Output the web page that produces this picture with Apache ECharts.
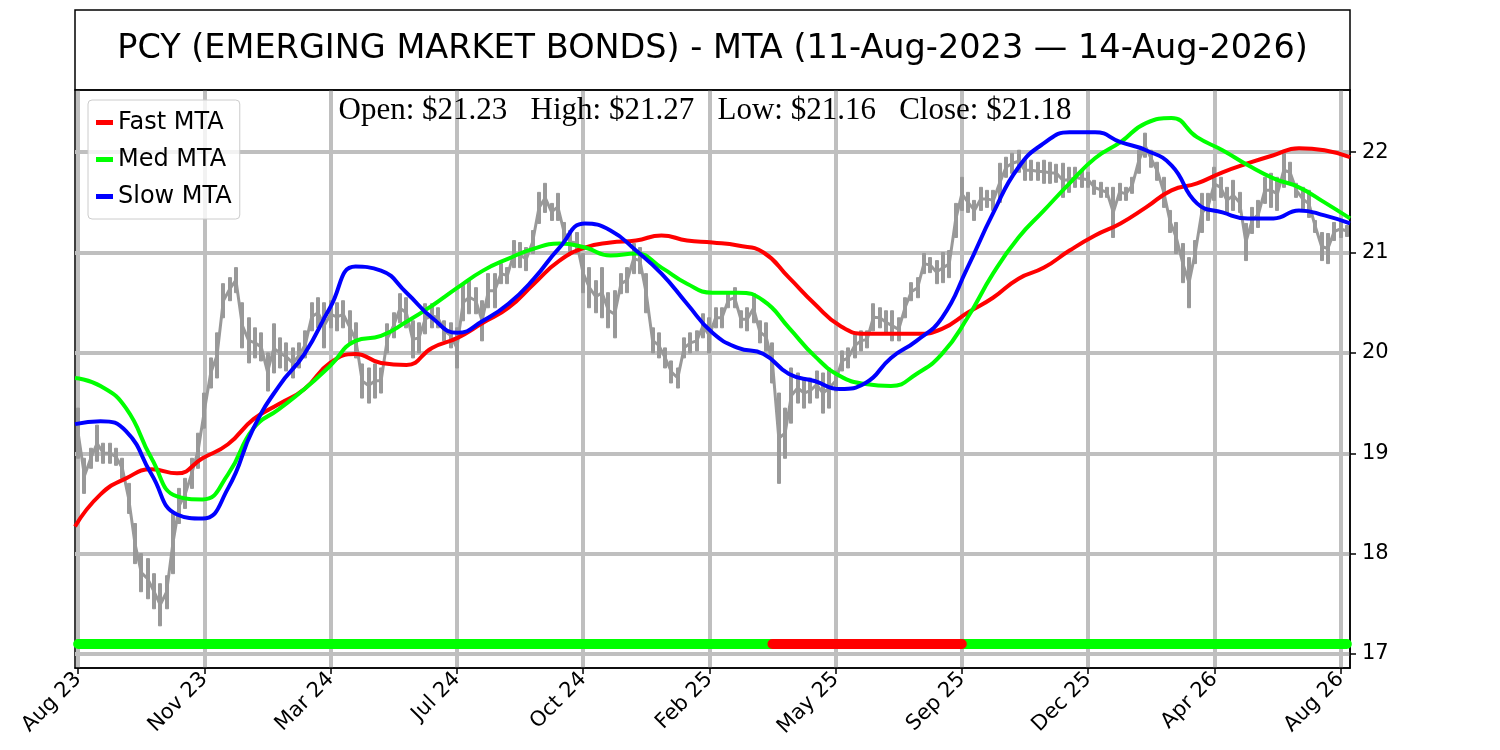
<!DOCTYPE html>
<html><head><meta charset="utf-8">
<script src="https://cdn.jsdelivr.net/npm/echarts@6/dist/echarts.min.js"></script>
<style>html,body{margin:0;padding:0;background:#fff}#c{width:1500px;height:750px}</style>
</head><body><div id="c"></div>
<script>
const titleText = 'PCY (EMERGING MARKET BONDS) - MTA (11-Aug-2023 \u2014 14-Aug-2026)';
const ohlcText = 'Open: $21.23   High: $21.27   Low: $21.16   Close: $21.18';
const tickLabels = ['Aug 23','Nov 23','Mar 24','Jul 24','Oct 24','Feb 25','May 25','Sep 25','Dec 25','Apr 26','Aug 26'];
const priceLow = [18.95,18.60,18.85,18.92,18.90,18.90,18.88,18.75,18.40,17.90,17.62,17.55,17.45,17.28,17.45,17.80,18.30,18.45,18.65,18.85,
19.25,19.65,19.75,20.35,20.52,20.60,20.05,19.90,19.95,19.92,19.62,19.80,19.85,19.82,19.75,19.85,19.95,20.22,20.25,20.05,
20.25,20.22,20.25,20.10,19.95,19.55,19.50,19.55,19.60,20.00,20.15,20.30,20.25,19.95,20.00,20.19,20.25,20.25,20.12,20.05,
19.85,20.32,20.39,20.39,20.12,20.45,20.45,20.69,20.69,20.85,20.85,20.82,20.99,21.29,21.40,21.32,21.32,21.10,20.99,20.99,
20.60,20.45,20.40,20.35,20.25,20.15,20.59,20.60,20.79,20.79,20.40,20.00,19.95,19.85,19.70,19.65,19.95,20.00,20.02,20.15,
20.00,20.25,20.25,20.45,20.45,20.25,20.22,20.30,20.10,20.02,19.70,18.70,18.95,19.30,19.50,19.45,19.50,19.55,19.40,19.45,
19.62,19.82,19.85,19.95,20.02,20.05,20.22,20.25,20.19,20.12,20.12,20.35,20.52,20.55,20.79,20.80,20.69,20.70,20.75,21.15,
21.42,21.40,21.32,21.42,21.45,21.42,21.50,21.75,21.79,21.80,21.72,21.72,21.72,21.69,21.69,21.70,21.55,21.60,21.65,21.65,
21.65,21.58,21.55,21.55,21.15,21.52,21.52,21.59,21.79,21.95,21.85,21.72,21.45,21.20,20.99,20.70,20.45,20.89,21.20,21.32,
21.52,21.55,21.39,21.42,21.40,20.92,21.19,21.25,21.49,21.45,21.42,21.65,21.70,21.55,21.42,21.35,21.20,20.92,20.89,21.12,
21.15,21.16];
const priceHigh = [19.45,18.95,19.05,19.28,19.10,19.10,19.05,18.95,18.70,18.30,18.00,17.95,17.80,17.70,17.78,18.40,18.65,18.75,18.95,19.20,
19.60,19.95,20.20,20.69,20.75,20.85,20.50,20.35,20.25,20.20,20.00,20.29,20.15,20.10,20.05,20.10,20.22,20.50,20.55,20.50,
20.52,20.50,20.52,20.42,20.30,19.89,19.85,19.89,19.85,20.29,20.40,20.59,20.55,20.32,20.30,20.49,20.49,20.45,20.32,20.30,
20.25,20.69,20.72,20.65,20.52,20.79,20.79,20.89,20.85,21.12,21.10,21.05,21.22,21.60,21.69,21.49,21.59,21.30,21.22,21.20,
20.99,20.85,20.72,20.85,20.60,20.62,20.79,20.85,21.09,21.05,20.79,20.25,20.20,20.05,19.92,19.85,20.15,20.20,20.22,20.39,
20.35,20.45,20.45,20.60,20.65,20.42,20.45,20.59,20.32,20.30,20.10,19.60,19.45,19.85,19.80,19.75,19.75,19.82,19.80,19.85,
19.82,20.02,20.05,20.19,20.22,20.22,20.49,20.45,20.42,20.42,20.35,20.55,20.70,20.75,20.99,20.95,20.92,21.00,21.02,21.49,
21.75,21.60,21.52,21.65,21.62,21.62,21.89,21.95,21.99,22.02,21.92,21.92,21.90,21.92,21.90,21.88,21.89,21.85,21.85,21.82,
21.80,21.72,21.70,21.65,21.65,21.69,21.65,21.75,22.02,22.19,22.02,21.90,21.75,21.42,21.30,21.09,20.95,21.12,21.59,21.59,
21.85,21.75,21.65,21.72,21.60,21.29,21.45,21.52,21.75,21.79,21.75,21.99,21.90,21.69,21.65,21.62,21.32,21.20,21.19,21.30,
21.32,21.27];
const fastMTA = [18.27,18.59,18.75,18.84,18.80,18.95,19.09,19.34,19.49,19.64,19.90,19.99,19.90,19.88,20.05,20.15,20.30,20.45,20.69,20.92,
21.05,21.10,21.12,21.17,21.12,21.10,21.07,21.00,20.75,20.49,20.27,20.19,20.19,20.19,20.24,20.40,20.55,20.74,20.85,21.02,
21.17,21.29,21.45,21.62,21.69,21.80,21.89,21.97,22.04,22.02,21.95];
const medMTA = [19.75,19.67,19.45,18.95,18.57,18.54,18.79,19.25,19.44,19.64,19.87,20.12,20.17,20.31,20.47,20.65,20.82,20.94,21.04,21.09,
21.05,20.97,20.99,20.85,20.69,20.60,20.60,20.52,20.25,19.97,19.77,19.69,19.67,19.79,19.99,20.35,20.79,21.15,21.42,21.69,
21.94,22.10,22.29,22.34,22.15,22.02,21.87,21.74,21.65,21.50,21.34];
const slowMTA = [19.29,19.32,19.22,18.79,18.39,18.35,18.65,19.25,19.67,19.99,20.45,20.86,20.82,20.60,20.35,20.20,20.32,20.49,20.74,21.05,
21.29,21.22,21.02,20.79,20.49,20.20,20.05,19.99,19.79,19.72,19.64,19.70,19.95,20.12,20.35,20.85,21.39,21.85,22.09,22.20,
22.20,22.10,22.02,21.87,21.49,21.40,21.34,21.34,21.42,21.37,21.29];
const signalSegments = [['bull',0,110],['bear',110,140],['bull',140,201]];
const signalLevel = 17.1;
const yTicks = [17,18,19,20,21,22];

const N = priceLow.length;
const cats = priceLow.map((_, i) => String(i));
const maCats = fastMTA.map((_, i) => String(i));
const candle = priceLow.map((lo, i) => [lo, priceHigh[i], lo, priceHigh[i]]);
const priceMid = priceLow.map((lo, i) => (lo + priceHigh[i]) / 2);
function segData(state) {
  const d = new Array(N).fill('-');
  signalSegments.forEach(([s, a, b]) => { if (s === state) for (let i = a; i <= b; i++) d[i] = signalLevel; });
  return d;
}
const FONT = 'DejaVu Sans';
const GREY = '#999999';
const chart = echarts.init(document.getElementById('c'));
chart.setOption({
  animation: false,
  backgroundColor: '#fff',
  grid: {left: 75, right: 150, top: 90, bottom: 82, show: true, borderColor: '#000', borderWidth: 1.5, backgroundColor: 'transparent'},
  legend: {
    left: 88, top: 100, orient: 'vertical', data: ['Fast MTA', 'Med MTA', 'Slow MTA'],
    icon: 'rect', itemWidth: 17, itemHeight: 5, itemGap: 10, padding: [9, 8, 9, 8],
    backgroundColor: 'rgba(255,255,255,0.8)', borderColor: '#cccccc', borderWidth: 1, borderRadius: 4,
    textStyle: {fontSize: 24, fontFamily: FONT, color: '#000', lineHeight: 27}
  },
  xAxis: [
    {type: 'category', data: cats, boundaryGap: true,
     axisLine: {show: true, lineStyle: {color: '#000', width: 1.5}},
     axisTick: {show: true, interval: (i) => i % 20 === 0, alignWithLabel: true, length: 6, lineStyle: {color: '#000', width: 1.5}},
     axisLabel: {interval: (i) => i % 20 === 0, formatter: (v, i) => (tickLabels[i / 20] || ''), rotate: 45, fontSize: 21, color: '#000', fontFamily: FONT, margin: 8},
     splitLine: {show: true, interval: (i) => i % 20 === 0, alignWithLabel: true, lineStyle: {color: '#bfbfbf', width: 4}}
    },
    {type: 'category', data: maCats, boundaryGap: false, show: false}
  ],
  yAxis: {
    type: 'value', position: 'right', min: 16.86, max: 22.62, scale: true,
    axisLine: {show: true, lineStyle: {color: '#000', width: 1.5}},
    axisTick: {show: true, length: 6, customValues: yTicks, lineStyle: {color: '#000', width: 1.5}},
    axisLabel: {fontSize: 21, color: '#000', fontFamily: FONT, margin: 12, customValues: yTicks},
    splitLine: {show: true, lineStyle: {color: '#bfbfbf', width: 4}}
  },
  graphic: [
    {type: 'rect', shape: {x: 75, y: 10, width: 1275, height: 80}, style: {fill: 'none', stroke: '#000', lineWidth: 1.5}, z: 100},
    {type: 'text', x: 712.5, y: 49, style: {text: titleText, fontSize: 33.5, fontFamily: FONT, fill: '#000', align: 'center', verticalAlign: 'middle'}, z: 100},
    {type: 'text', x: 705, y: 111, style: {text: ohlcText, fontSize: 31, fontFamily: 'Liberation Serif', fill: '#000', align: 'center', verticalAlign: 'middle'}, z: 100}
  ],
  series: [
    {type: 'candlestick', name: 'Price', xAxisIndex: 0, data: candle, barWidth: 3.5, silent: true, z: 2,
     itemStyle: {color: GREY, color0: GREY, borderColor: GREY, borderColor0: GREY, borderWidth: 1}},
    {type: 'line', name: 'PriceTrace', xAxisIndex: 0, data: priceMid, symbol: 'none', silent: true, z: 2,
     lineStyle: {color: GREY, width: 3}},
    {type: 'line', name: 'SignalBull', xAxisIndex: 0, data: segData('bull'), symbol: 'none', silent: true, z: 3,
     lineStyle: {color: '#00ff00', width: 10, cap: 'round'}},
    {type: 'line', name: 'SignalBear', xAxisIndex: 0, data: segData('bear'), symbol: 'none', silent: true, z: 3,
     lineStyle: {color: '#ff0000', width: 10, cap: 'round'}},
    {type: 'line', name: 'Fast MTA', xAxisIndex: 1, data: fastMTA, smooth: true, symbol: 'none', z: 4, color: '#ff0000', lineStyle: {color: '#ff0000', width: 4}},
    {type: 'line', name: 'Med MTA', xAxisIndex: 1, data: medMTA, smooth: true, symbol: 'none', z: 4, color: '#00ff00', lineStyle: {color: '#00ff00', width: 4}},
    {type: 'line', name: 'Slow MTA', xAxisIndex: 1, data: slowMTA, smooth: true, symbol: 'none', z: 4, color: '#0000ff', lineStyle: {color: '#0000ff', width: 4}}
  ]
});
</script></body></html>
